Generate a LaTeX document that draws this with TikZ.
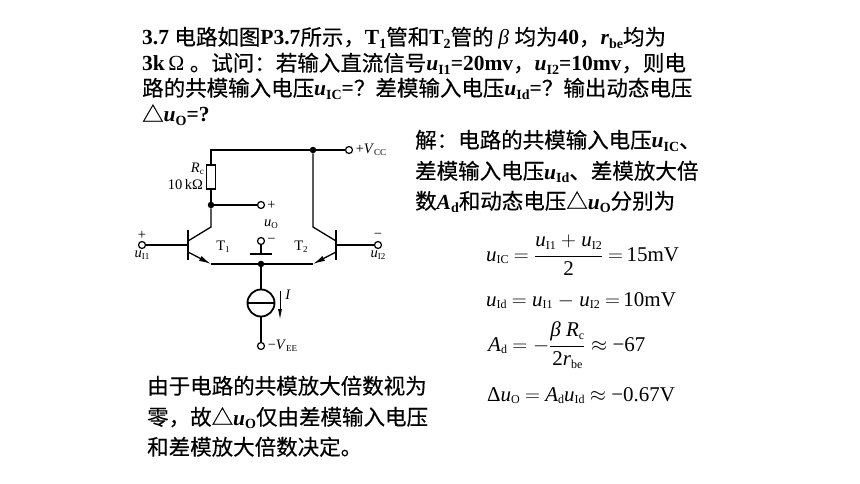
\documentclass[tikz,border=0pt]{standalone}
\usepackage{fontspec}
\setmainfont{Liberation Serif}
\newfontfamily\cjk[FakeBold=0.3]{Noto Sans CJK SC}
\usetikzlibrary{positioning,arrows.meta}
\newcommand{\zh}[1]{{\cjk #1}}
\newcommand{\bv}[2]{\textbf{\textit{#1}\raisebox{-.32ex}{\fontsize{14}{14}\selectfont #2}}}
\newcommand{\ev}[2]{\textit{#1}\raisebox{-.3ex}{\fontsize{12}{12}\selectfont #2}}
\newcommand{\cv}[2]{\textit{#1}\raisebox{-.3ex}{\fontsize{9}{9}\selectfont #2}}

\begin{document}
\begin{tikzpicture}[x=1pt, y=-1pt,
every node/.style={inner sep=0pt},
textline/.style={anchor=base west, font=\fontsize{21.5}{24}\selectfont},
eqn/.style={anchor=base west, font=\fontsize{21}{24}\selectfont},
wire/.style={line width=1.3pt},
bar/.style={line width=2pt},
emitter/.style={line width=1.3pt, -{Latex[length=12pt,width=5.5pt]}},
terminal/.style={circle, draw, line width=1.2pt, fill=white, minimum size=7pt},
dotnode/.style={circle, fill=black, minimum size=6.5pt},
resistor/.style={rectangle, draw, line width=1.4pt, fill=white, minimum width=8.5pt, minimum height=24pt},
source/.style={circle, draw, line width=1.8pt, fill=white, minimum size=27pt},
small/.style={font=\fontsize{14.5}{14}\selectfont}
]
\path [fill=white, use as bounding box] (0,0) rectangle (860,484);

% question
\node [textline] (q1) at (142,45) {\textbf{3.7} \zh{电路如图}\textbf{P3.7}\zh{所示，}\bv{\textup{T}}{1}\zh{管和}\bv{\textup{T}}{2}\zh{管的 }\textit{β} \zh{均为}\textbf{40}\zh{，}\bv{r}{be}\zh{均为}};
\node [textline] (q2) at (142,71) {\textbf{3k}\,Ω \zh{。试问：若输入直流信号}\bv{u}{I1}\textbf{=20mv}\zh{，}\bv{u}{I2}\textbf{=10mv}\zh{，则电}};
\node [textline] (q3) at (142,96) {\zh{路的共模输入电压}\bv{u}{IC}\textbf{=}\zh{？差模输入电压}\bv{u}{Id}\textbf{=}\zh{？输出动态电压}};
\node [textline] (q4) at (142,122) {\zh{△}\bv{u}{O}\textbf{=?}};

% solution
\node [textline] (s1) at (415,148) {\zh{解：电路的共模输入电压}\bv{u}{IC}\zh{、}};
\node [textline] (s2) at (415,179) {\zh{差模输入电压}\bv{u}{Id}\zh{、差模放大倍}};
\node [textline] (s3) at (415,209) {\zh{数}\bv{A}{d}\zh{和动态电压△}\bv{u}{O}\zh{分别为}};

% remark
\node [textline] (r1) at (147,394) {\zh{由于电路的共模放大倍数视为}};
\node [textline] (r2) at (147,425) {\zh{零，故△}\bv{u}{O}\zh{仅由差模输入电压}};
\node [textline] (r3) at (147,455) {\zh{和差模放大倍数决定。}};

% equations
\node [eqn] (e1) at (486,261) {\ev{u}{IC} $=$ $\displaystyle\frac{\hbox{\ev{u}{I1} $+$ \ev{u}{I2}}}{\hbox{2}}$ $=$\,15mV};
\node [eqn] (e2) at (486,306) {\ev{u}{Id} $=$ \ev{u}{I1} $-$ \ev{u}{I2} $=$\,10mV};
\node [eqn] (e3) at (488,351) {\ev{A}{d} $=-\displaystyle\frac{\hbox{\textit{β} \ev{R}{c}}}{\hbox{2\ev{r}{be}}}\approx$ −67};
\node [eqn] (e4) at (487,401) {Δ\ev{u}{O} $=$ \ev{A}{d}\ev{u}{Id} $\approx$ −0.67V};

% circuit
\coordinate (tl) at (211,150);
\node [dotnode] (vccdot) at (313,150) {};
\node [terminal] (vcc) at (349,150) {};
\node [resistor] (rc) at (211,177) {};
\node [dotnode] (outdot) at (211,205) {};
\node [terminal] (out) at (261,205) {};
\coordinate (c1) at (211,227);
\coordinate (c2) at (313,227);
\coordinate (b1) at (188,245);
\coordinate (b2) at (336,245);
\coordinate (c1b) at (188,241);
\coordinate (c2b) at (336,241);
\coordinate (e1b) at (188,252);
\coordinate (e2b) at (336,252);
\coordinate (e1c) at (211,264);
\coordinate (e2c) at (313,264);
\coordinate (bar1t) at (188,230);
\coordinate (bar1b) at (188,260);
\coordinate (bar2t) at (336,230);
\coordinate (bar2b) at (336,260);
\node [terminal] (in1) at (142,245) {};
\node [terminal] (in2) at (378,245) {};
\node [dotnode] (taildot) at (261,264) {};
\node [terminal] (gnd) at (261,241) {};
\coordinate (gndc) at (261,254);
\coordinate (gndl) at (250,254);
\coordinate (gndr) at (272,254);
\node [source] (src) at (261,303) {};
\node [terminal] (vee) at (261,346) {};
\coordinate (iup) at (280,291);
\coordinate (idn) at (280,320);

\draw [wire] (rc) -- (tl) -- (vccdot) -- (vcc);
\draw [wire] (rc) -- (outdot) -- (out);
\draw [wire] (outdot) -- (c1) -- (c1b);
\draw [wire] (vccdot) -- (c2) -- (c2b);
\draw [bar] (bar1t) -- (bar1b);
\draw [bar] (bar2t) -- (bar2b);
\draw [wire] (in1) -- (b1);
\draw [wire] (in2) -- (b2);
\draw [emitter] (e1b) -- (e1c);
\draw [emitter] (e2b) -- (e2c);
\draw [wire] (e1c) -- (taildot) -- (e2c);
\draw [wire] (gnd) -- (gndc);
\draw [bar] (gndl) -- (gndr);
\draw [wire] (taildot) -- (src);
\draw [wire] (src) -- (vee);
\draw [wire] (src.west) -- (src.east);
\draw [line width=1pt, -{Latex[length=11pt,width=4pt]}] (iup) -- (idn);

\node [small] (rclabel) [anchor=east] at (204,169) {\cv{R}{c}};
\node [small] (rcval) [anchor=east] at (203,185) {10\,kΩ};
\node [small] (outplus) [right=2pt of out] {+};
\node [small] (uo) at (271,224) {\cv{u}{O}};
\node [small] (gndminus) [right=2pt of gnd] {−};
\node [small] (t1) at (223,247) {T\raisebox{-.3ex}{\fontsize{9}{9}\selectfont 1}};
\node [small] (t2) at (301,247) {T\raisebox{-.3ex}{\fontsize{9}{9}\selectfont 2}};
\node [small] (in1plus) [above=1pt of in1] {+};
\node [small] (in1label) [below=1.5pt of in1] {\cv{u}{I1}};
\node [small] (in2minus) [above=2pt of in2] {−};
\node [small] (in2label) [below=1.5pt of in2] {\cv{u}{I2}};
\node [small] (vcclabel) [right=2.5pt of vcc] {+\cv{V}{CC}};
\node [small] (veelabel) [right=2.5pt of vee] {−\cv{V}{EE}};
\node [small] (ilabel) at (288,295) {\textit{I}};
\end{tikzpicture}
\end{document}
